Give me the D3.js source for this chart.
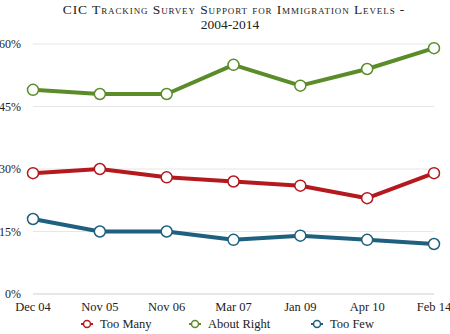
<!DOCTYPE html>
<html><head><meta charset="utf-8">
<script src="https://cdn.jsdelivr.net/npm/d3@7"></script>
<style>
body{margin:0;background:#fff;}
svg text{font-family:"Liberation Serif","DejaVu Serif",serif;}
</style></head>
<body><svg id="c" width="450" height="334"></svg>
<script>
const categories = ["Dec 04","Nov 05","Nov 06","Mar 07","Jan 09","Apr 10","Feb 14"];
const tooMany = [29,30,28,27,26,23,29];
const aboutRight = [49,48,48,55,50,54,59];
const tooFew = [18,15,15,13,14,13,12];
const yTicks = [0,15,30,45,60];
const seriesNames = ["Too Many","About Right","Too Few"];
const seriesColors = ["#b5191e","#5b8c2a","#1f5f7f"];
const seriesData = [tooMany, aboutRight, tooFew];
const FONT = "'Liberation Serif', 'Times New Roman', serif";

const svg = d3.select("#c");
const x = d3.scalePoint().domain(categories).range([33,434]);
const y = d3.scaleLinear().domain([0,60]).range([294,44]);

// title
const title = svg.append("text").attr("text-anchor","middle").attr("fill","#222")
  .attr("font-family",FONT).attr("font-size",13.5);
title.append("tspan").attr("x",234).attr("y",14)
  .attr("font-variant","small-caps").attr("letter-spacing","0.9")
  .text("CIC Tracking Survey Support for Immigration Levels -");
title.append("tspan").attr("x",230).attr("y",29).text("2004-2014");

// grid
svg.append("g").selectAll("line").data(yTicks).join("line")
  .attr("x1",33).attr("x2",434).attr("y1",d=>y(d)).attr("y2",d=>y(d))
  .attr("stroke",d=>d===0?"#cfcfcf":"#e6e6e6").attr("stroke-width",1);

svg.append("g").selectAll("text").data(yTicks).join("text")
  .attr("x",21).attr("y",d=>y(d)+4).attr("text-anchor","end")
  .attr("font-family",FONT).attr("font-size",12)
  .attr("fill","#222").text(d=>d+"%");

svg.append("g").selectAll("text").data(categories).join("text")
  .attr("x",d=>x(d)).attr("y",311).attr("text-anchor","middle")
  .attr("font-family",FONT).attr("font-size",12.5)
  .attr("fill","#222").text(d=>d);

const line = d3.line().x((d,i)=>x(categories[i])).y(d=>y(d));
seriesData.forEach((s,k)=>{
  const g = svg.append("g");
  g.append("path").datum(s).attr("d",line).attr("fill","none")
    .attr("stroke",seriesColors[k]).attr("stroke-width",4).attr("stroke-linejoin","round");
  g.selectAll("circle").data(s).join("circle")
    .attr("cx",(d,i)=>x(categories[i])).attr("cy",d=>y(d)).attr("r",5.5)
    .attr("fill","#fff").attr("stroke",seriesColors[k]).attr("stroke-width",1.5);
});

// legend
const legX = [87,195,317];
const leg = svg.append("g");
seriesNames.forEach((n,k)=>{
  leg.append("line").attr("x1",legX[k]-6).attr("x2",legX[k]+6).attr("y1",324).attr("y2",324)
    .attr("stroke",seriesColors[k]).attr("stroke-width",2);
  leg.append("circle").attr("cx",legX[k]).attr("cy",324).attr("r",3.5)
    .attr("fill","#fff").attr("stroke",seriesColors[k]).attr("stroke-width",1.5);
  leg.append("text").attr("x",legX[k]+13).attr("y",328).attr("fill","#222")
    .attr("font-family",FONT).attr("font-size",12.5).text(n);
});
</script></body></html>
